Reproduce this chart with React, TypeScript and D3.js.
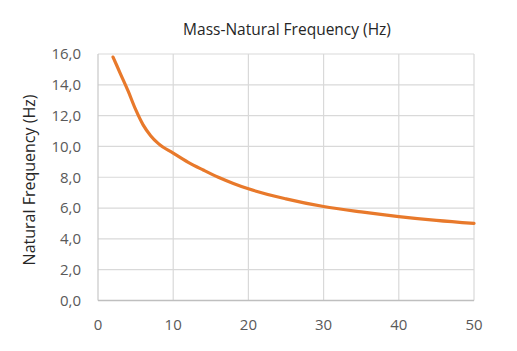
import React from "react";
import { scaleLinear, line, curveMonotoneX, range } from "d3";

const massValues = [2, 3, 4, 5, 6, 7, 8, 10, 12, 14, 16, 18, 20, 25, 30, 35, 40, 45, 50];
const freqValues = [15.8, 14.7, 13.6, 12.4, 11.4, 10.7, 10.2, 9.57, 8.97, 8.47, 8.0, 7.6, 7.25, 6.6, 6.1, 5.75, 5.45, 5.2, 5.0];
const xTicks = [0, 10, 20, 30, 40, 50];
const yTicks = range(0, 17, 2);

const W = 517;
const H = 351;
const margin = { left: 98, right: 43, top: 54, bottom: 50.5 };

export default function App() {
  const x = scaleLinear().domain([0, 50]).range([margin.left, W - margin.right]);
  const y = scaleLinear().domain([0, 16]).range([H - margin.bottom, margin.top]);

  const data = massValues.map((m, i) => ({ m, f: freqValues[i] }));
  const path = line<{ m: number; f: number }>()
    .x(d => x(d.m))
    .y(d => y(d.f))
    .curve(curveMonotoneX)(data);

  const font = "'Open Sans', Lato, sans-serif";

  return (
    <>
      <style>{`body{margin:0}`}</style>
      <svg width={W} height={H} style={{ display: "block", background: "#fff" }}>
        <text x={287} y={35} textAnchor="middle" fontFamily={font} fontSize={15.5} fill="#262626">
          Mass-Natural Frequency (Hz)
        </text>

        {/* grid */}
        <g>
          {yTicks.filter(t => t > 0).map(t => (
            <line key={"gy" + t} x1={x(0)} x2={x(50)} y1={y(t)} y2={y(t)} stroke="#d9d9d9" strokeWidth={1.2} />
          ))}
          {xTicks.filter(t => t > 0).map(t => (
            <line key={"gx" + t} x1={x(t)} x2={x(t)} y1={y(0)} y2={y(16)} stroke="#d9d9d9" strokeWidth={1.2} />
          ))}
          <line x1={x(0)} x2={x(0)} y1={y(0)} y2={y(16)} stroke="#c8c8c8" strokeWidth={1.2} />
          <line x1={x(0)} x2={x(50)} y1={y(0)} y2={y(0)} stroke="#bfbfbf" strokeWidth={1.4} />
        </g>

        {/* tick labels */}
        <g fontFamily={font} fontSize={15} fill="#595959">
          {yTicks.map(t => (
            <text key={"ty" + t} x={81} y={y(t)} dy="0.35em" textAnchor="end">
              {t.toFixed(1).replace(".", ",")}
            </text>
          ))}
          {xTicks.map(t => (
            <text key={"tx" + t} x={x(t)} y={330} textAnchor="middle">
              {t}
            </text>
          ))}
        </g>

        <text
          transform={`translate(35,180) rotate(-90)`}
          textAnchor="middle"
          fontFamily={font}
          fontSize={16}
          fill="#262626"
        >
          Natural Frequency (Hz)
        </text>

        <path d={path ?? ""} fill="none" stroke="#e8792b" strokeWidth={3.2} strokeLinecap="round" />
      </svg>
    </>
  );
}
